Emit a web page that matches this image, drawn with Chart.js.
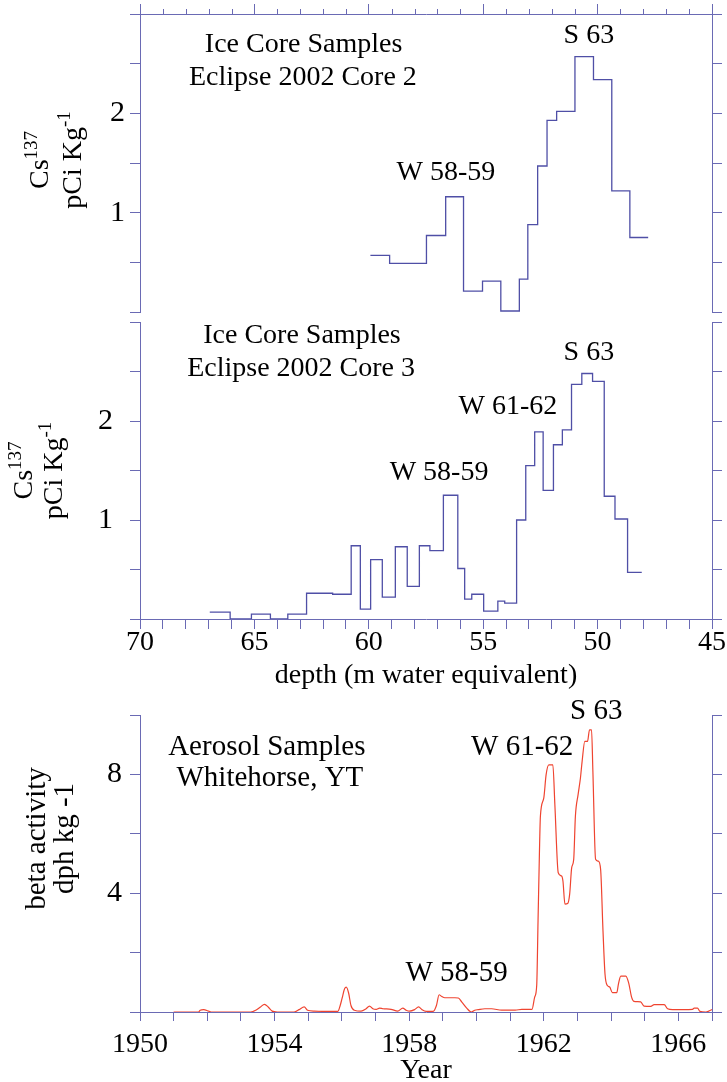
<!DOCTYPE html>
<html>
<head>
<meta charset="utf-8">
<title>Cs137 ice cores and Whitehorse aerosol beta activity</title>
<script src="https://cdn.jsdelivr.net/npm/chart.js@4"></script>
<style>
  html, body { margin: 0; padding: 0; background: #fff; }
  body { position: relative; width: 727px; height: 1082px; overflow: hidden; }
  canvas { position: absolute; left: 0; }
</style>
</head>
<body>
<canvas id="core2" width="727" height="316" style="top:0px"></canvas>
<canvas id="core3" width="727" height="374" style="top:316px"></canvas>
<canvas id="aerosol" width="727" height="392" style="top:690px"></canvas>
<script>
// Core 2: bin edges (m w.e.) and Cs137 level of each bin (pCi/kg)
var core2Depth = [59.93, 59.09, 58.29, 57.48, 56.64, 55.86, 55.03, 54.23, 53.42, 53.05, 52.62,
                  52.21, 51.79, 50.99, 50.18, 49.38, 48.59, 47.79];
var core2Cs = [0.57, 0.49, 0.49, 0.77, 1.16, 0.21, 0.31, 0.01, 0.33, 0.88, 1.47,
               1.93, 2.02, 2.57, 2.34, 1.22, 0.75];

// Core 3
var core3Depth = [66.95, 66.06, 65.13, 64.30, 63.54, 62.72, 61.58, 60.77, 60.37, 59.92, 59.41,
                  58.84, 58.32, 57.79, 57.33, 56.74, 56.11, 55.81, 55.50, 54.98, 54.36, 54.06,
                  53.54, 53.14, 52.75, 52.38, 51.93, 51.54, 51.14, 50.69, 50.22, 49.71, 49.24,
                  48.69, 48.07];
var core3Cs = [0.07, 0, 0.05, 0, 0.05, 0.26, 0.25, 0.74, 0.10, 0.60, 0.22,
               0.73, 0.33, 0.74, 0.69, 1.25, 0.51, 0.20, 0.25, 0.08, 0.18, 0.16,
               1.00, 1.55, 1.89, 1.30, 1.76, 1.91, 2.37, 2.48, 2.40, 1.24, 1.01,
               0.47];

// Whitehorse aerosol samples
var aerosolYear = [1951.00, 1951.74, 1951.79, 1951.89, 1952.04, 1952.14, 1953.29, 1953.44, 1953.58,
  1953.70, 1953.81, 1953.93, 1954.08, 1954.58, 1954.73, 1954.88, 1954.98, 1955.18, 1955.88,
  1955.95, 1956.01, 1956.08, 1956.13, 1956.20, 1956.27, 1956.37, 1956.57, 1956.72, 1956.82,
  1956.92, 1957.02, 1957.12, 1957.22, 1957.46, 1957.66, 1957.81, 1957.91, 1958.01, 1958.16,
  1958.28, 1958.38, 1958.51, 1958.71, 1958.81, 1958.89, 1958.96, 1959.06, 1959.36, 1959.46,
  1959.56, 1959.71, 1959.85, 1959.95, 1960.05, 1960.25, 1960.45, 1960.75, 1961.15, 1961.35,
  1961.65, 1961.73, 1961.79, 1961.83, 1961.87, 1961.90, 1962.00, 1962.07, 1962.15, 1962.27,
  1962.33, 1962.43, 1962.53, 1962.57, 1962.63, 1962.71, 1962.77, 1962.83, 1962.89, 1962.94,
  1963.02, 1963.09, 1963.14, 1963.22, 1963.30, 1963.36, 1963.42, 1963.46, 1963.54, 1963.62,
  1963.69, 1963.76, 1963.82, 1963.89, 1963.96, 1964.04, 1964.17, 1964.22, 1964.29, 1964.44,
  1964.53, 1964.61, 1964.68, 1964.88, 1964.98, 1965.18, 1965.28, 1965.58, 1965.68, 1965.83,
  1966.42, 1966.47, 1966.57, 1966.64, 1966.82, 1967.00];
var aerosolBeta = [0, 0, 0.06, 0.08, 0.03, 0, 0, 0.06, 0.17,
  0.26, 0.17, 0.03, 0, 0, 0.08, 0.17, 0.06, 0.03, 0.02,
  0.22, 0.48, 0.78, 0.84, 0.64, 0.22, 0.06, 0.03, 0.11, 0.20,
  0.11, 0.09, 0.13, 0.11, 0.09, 0.03, 0.13, 0.06, 0.03, 0.08,
  0.17, 0.08, 0.02, 0.02, 0.22, 0.58, 0.53, 0.48, 0.48, 0.47,
  0.34, 0.13, 0, 0.06, 0.08, 0.11, 0.11, 0.06, 0.06, 0.09,
  0.09, 0.50, 0.89, 3.07, 5.30, 6.59, 7.20, 7.99, 8.32, 8.32,
  6.98, 4.69, 4.58, 4.41, 3.63, 3.65, 3.97, 4.86, 5.14, 6.59,
  7.32, 7.88, 8.44, 9.11, 9.11, 9.50, 9.50, 8.10, 5.14, 5.08,
  4.80, 2.74, 1.28, 0.89, 0.84, 0.65, 0.65, 0.95, 1.21, 1.21,
  0.95, 0.50, 0.36, 0.34, 0.20, 0.19, 0.25, 0.25, 0.11, 0.08,
  0.09, 0.13, 0.13, 0.02, 0.00, 0.08];

// tick labels
var depthLabels = [70, 65, 60, 55, 50, 45];
var csLabels = [1, 2];
var yearLabels = [1950, 1954, 1958, 1962, 1966];
var betaLabels = [4, 8];

var serif = '"Liberation Serif", "Times New Roman", serif';
var axisColor = '#6a6ab4';
var stepColor = '#4f4fa6';
var redColor = '#ef4430';

Chart.defaults.font.family = serif;
Chart.defaults.color = '#000';

function stepPoints(edges, levels) {
  var pts = [];
  for (var i = 0; i < edges.length; i++) {
    pts.push({ x: edges[i], y: levels[Math.min(i, levels.length - 1)] });
  }
  return pts;
}

function xyPoints(xs, ys) {
  return xs.map(function (x, i) { return { x: x, y: ys[i] }; });
}

function onlyLabels(list) {
  return function (v) { return list.indexOf(v) >= 0 ? String(v) : ''; };
}

function noEndPadding(s) {
  s.paddingTop = 0;
  s.paddingBottom = 0;
}

// text notes placed in data units
var notesPlugin = {
  id: 'notes',
  afterDraw: function (chart, args, opts) {
    var ctx = chart.ctx, xs = chart.scales.x, ys = chart.scales.y;
    ctx.save();
    ctx.fillStyle = '#000';
    ctx.textAlign = 'center';
    ctx.textBaseline = 'middle';
    ctx.font = opts.size + 'px ' + serif;
    opts.items.forEach(function (n) {
      ctx.fillText(n.text, xs.getPixelForValue(n.x), ys.getPixelForValue(n.y));
    });
    ctx.restore();
  }
};

// rotated y title, with superscripts
var sideTitlePlugin = {
  id: 'sideTitle',
  afterDraw: function (chart, args, opts) {
    var ctx = chart.ctx;
    var yc = (chart.chartArea.top + chart.chartArea.bottom) / 2 + (opts.shift || 0);
    ctx.save();
    ctx.fillStyle = '#000';
    ctx.textBaseline = 'middle';
    ctx.textAlign = 'left';
    opts.lines.forEach(function (line, i) {
      var w = 0;
      line.forEach(function (seg) {
        ctx.font = (seg.sup ? opts.supSize : opts.size) + 'px ' + serif;
        w += ctx.measureText(seg.t).width;
      });
      ctx.save();
      ctx.translate(opts.x[i], yc);
      ctx.rotate(-Math.PI / 2);
      var cx = -w / 2;
      line.forEach(function (seg) {
        ctx.font = (seg.sup ? opts.supSize : opts.size) + 'px ' + serif;
        ctx.fillText(seg.t, cx, seg.sup ? -opts.size * 0.32 : 0);
        cx += ctx.measureText(seg.t).width;
      });
      ctx.restore();
    });
    ctx.restore();
  }
};

// short ticks between the major ones on the top depth axis
var minorTicksPlugin = {
  id: 'minorTicks',
  afterDraw: function (chart, args, opts) {
    var s = chart.scales.x, ctx = chart.ctx;
    ctx.save();
    ctx.strokeStyle = axisColor;
    ctx.lineWidth = 1;
    ctx.beginPath();
    for (var v = s.min; v <= s.max; v += 1) {
      if (v % 5 === 0) continue;
      var px = Math.round(s.getPixelForValue(v)) + 0.5;
      ctx.moveTo(px, s.bottom);
      ctx.lineTo(px, s.bottom - opts.length);
    }
    ctx.stroke();
    ctx.restore();
  }
};

function rightAxis(min, max, step) {
  return {
    type: 'linear', position: 'right', min: min, max: max,
    ticks: { display: false, stepSize: step },
    grid: { drawOnChartArea: false, tickLength: 10, color: axisColor },
    border: { color: axisColor },
    afterFit: function (s) { s.width = 15; }
  };
}

function leftAxis(min, max, step, labels, pad) {
  return {
    type: 'linear', position: 'left', min: min, max: max,
    ticks: { stepSize: step, callback: onlyLabels(labels), padding: pad,
             font: { size: 30, lineHeight: 1 }, color: '#000', autoSkip: false },
    grid: { drawOnChartArea: false, tickLength: 10, color: axisColor },
    border: { color: axisColor },
    afterFit: function (s) { s.width = 140; noEndPadding(s); }
  };
}

var csTitle = [
  [{ t: 'Cs' }, { t: '137', sup: true }],
  [{ t: 'pCi Kg' }, { t: '-1', sup: true }]
];

// ---- top panel: Core 2
new Chart(document.getElementById('core2'), {
  type: 'line',
  data: {
    datasets: [{
      data: stepPoints(core2Depth, core2Cs),
      stepped: true,
      borderColor: stepColor,
      borderWidth: 1.3,
      pointRadius: 0,
      fill: false
    }]
  },
  options: {
    responsive: false,
    animation: false,
    layout: { padding: { top: 0, bottom: 4, left: 0, right: 0 } },
    plugins: {
      legend: { display: false },
      tooltip: { enabled: false },
      notes: {
        size: 28,
        items: [
          { text: 'Ice Core Samples', x: 62.85, y: 2.69 },
          { text: 'Eclipse 2002 Core 2', x: 62.88, y: 2.36 },
          { text: 'S 63', x: 50.38, y: 2.78 },
          { text: 'W 58-59', x: 56.63, y: 1.40 }
        ]
      },
      sideTitle: { lines: csTitle, x: [41, 74], shift: -3, size: 28, supSize: 19 },
      minorTicks: { length: 5 }
    },
    scales: {
      x: {
        type: 'linear', position: 'top', min: 45, max: 70, reverse: true,
        ticks: { display: false, stepSize: 5 },
        grid: { drawOnChartArea: false, tickLength: 10, color: axisColor },
        border: { color: axisColor },
        afterFit: function (s) { s.height = 14; }
      },
      y: leftAxis(0, 3, 0.5, csLabels, 5),
      y2: rightAxis(0, 3, 0.5)
    }
  },
  plugins: [notesPlugin, sideTitlePlugin, minorTicksPlugin]
});

// ---- middle panel: Core 3
new Chart(document.getElementById('core3'), {
  type: 'line',
  data: {
    datasets: [{
      data: stepPoints(core3Depth, core3Cs),
      stepped: true,
      borderColor: stepColor,
      borderWidth: 1.3,
      pointRadius: 0,
      fill: false
    }]
  },
  options: {
    responsive: false,
    animation: false,
    layout: { padding: { top: 6, bottom: 0, left: 0, right: 0 } },
    plugins: {
      legend: { display: false },
      tooltip: { enabled: false },
      notes: {
        size: 28,
        items: [
          { text: 'Ice Core Samples', x: 62.92, y: 2.86 },
          { text: 'Eclipse 2002 Core 3', x: 62.96, y: 2.53 },
          { text: 'S 63', x: 50.38, y: 2.69 },
          { text: 'W 61-62', x: 53.92, y: 2.15 },
          { text: 'W 58-59', x: 56.93, y: 1.48 }
        ]
      },
      sideTitle: { lines: csTitle, x: [25, 55], shift: 0, size: 28, supSize: 19 }
    },
    scales: {
      x: {
        type: 'linear', position: 'bottom', min: 45, max: 70, reverse: true,
        ticks: { stepSize: 1, callback: onlyLabels(depthLabels), padding: 0,
                 font: { size: 28, lineHeight: 1 }, color: '#000',
                 autoSkip: false, maxRotation: 0, minRotation: 0 },
        grid: { drawOnChartArea: false, tickLength: 10, color: axisColor },
        border: { color: axisColor },
        title: { display: true, text: 'depth (m water equivalent)', color: '#000',
                 font: { size: 28, lineHeight: 1 }, padding: { top: 0, bottom: 0 } },
        afterFit: function (s) { s.height = 71; s.paddingLeft = 0; s.paddingRight = 0; }
      },
      y: leftAxis(0, 3, 0.5, csLabels, 17),
      y2: rightAxis(0, 3, 0.5)
    }
  },
  plugins: [notesPlugin, sideTitlePlugin]
});

// ---- bottom panel: aerosol beta activity
new Chart(document.getElementById('aerosol'), {
  type: 'line',
  data: {
    datasets: [{
      data: xyPoints(aerosolYear, aerosolBeta),
      borderColor: redColor,
      borderWidth: 1.2,
      pointRadius: 0,
      cubicInterpolationMode: 'monotone',
      fill: false
    }]
  },
  options: {
    responsive: false,
    animation: false,
    layout: { padding: { top: 25, bottom: 0, left: 0, right: 0 } },
    plugins: {
      legend: { display: false },
      tooltip: { enabled: false },
      notes: {
        size: 29,
        items: [
          { text: 'Aerosol Samples', x: 1953.77, y: 8.92 },
          { text: 'Whitehorse, YT', x: 1953.86, y: 7.85 },
          { text: 'S 63', x: 1963.56, y: 10.13 },
          { text: 'W 61-62', x: 1961.36, y: 8.92 },
          { text: 'W 58-59', x: 1959.41, y: 1.31 }
        ]
      },
      sideTitle: {
        lines: [[{ t: 'beta activity' }], [{ t: 'dph kg -1' }]],
        x: [37, 65], shift: -25, size: 29, supSize: 19
      }
    },
    scales: {
      x: {
        type: 'linear', position: 'bottom', min: 1950, max: 1967,
        ticks: { stepSize: 1, callback: onlyLabels(yearLabels), padding: 10,
                 font: { size: 28, lineHeight: 1 }, color: '#000',
                 autoSkip: false, maxRotation: 0, minRotation: 0 },
        grid: { drawOnChartArea: false, tickLength: 9, color: axisColor },
        border: { color: axisColor },
        title: { display: true, text: 'Year', color: '#000',
                 font: { size: 28, lineHeight: 0.8 }, padding: { top: 0, bottom: 0 } },
        afterFit: function (s) { s.height = 70; s.paddingLeft = 0; s.paddingRight = 0; }
      },
      y: leftAxis(0, 10, 2, betaLabels, 8),
      y2: rightAxis(0, 10, 2)
    }
  },
  plugins: [notesPlugin, sideTitlePlugin]
});
</script>
</body>
</html>
